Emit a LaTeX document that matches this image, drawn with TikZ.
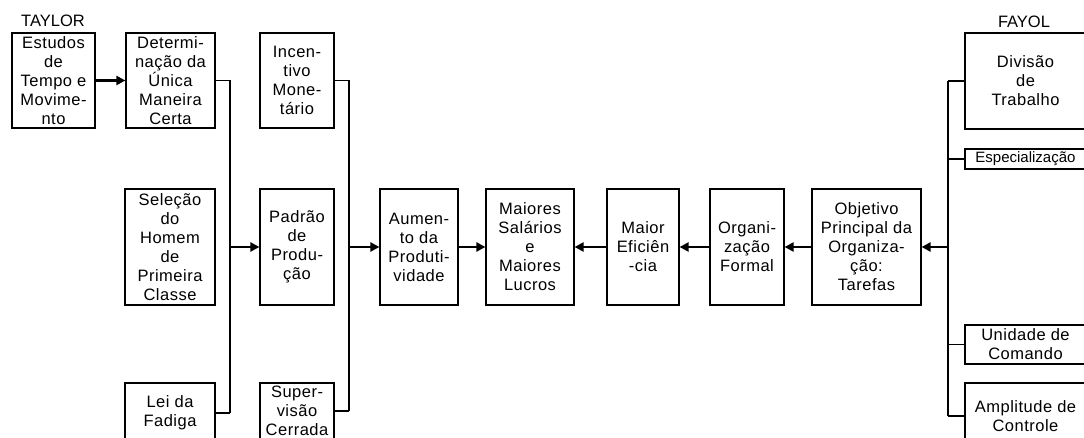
\documentclass[tikz,border=0pt]{standalone}
\usepackage{fontspec}
\setmainfont{Liberation Sans}
\newfontfamily\boxfont[LetterSpace=3]{Liberation Sans}
\usetikzlibrary{arrows.meta, positioning}

\begin{document}
\begin{tikzpicture}[x=1pt, y=-1pt,
      box/.style={draw, line width=1.2pt, rectangle, inner sep=0pt,
                  align=center, font=\boxfont\fontsize{16.5}{19}\selectfont},
      arr/.style={-{Triangle[length=9pt,width=9pt]}, line width=2.8pt},
      bus/.style={line width=1.2pt},
      >=Stealth]
    \useasboundingbox (0,0) rectangle (1084,438);
    % Taylor
    \node[font=\fontsize{16.5}{18}\selectfont] (taylor) at (53,21) {TAYLOR};
    \node[box, minimum width=83pt, minimum height=95pt] (est) at (53.5,80.5)
          {Estudos\\de\\Tempo e\\Movime-\\nto};
    \node[box, minimum width=89pt, minimum height=95pt] (det) at (170.5,80.5)
          {Determi-\\nação da\\Única\\Maneira\\Certa};
    \node[box, minimum width=90pt, minimum height=116pt] (sel) at (170,247)
          {Seleção\\do\\Homem\\de\\Primeira\\Classe};
    \node[box, minimum width=90pt, minimum height=60pt] (lei) at (170,413)
          {Lei da\\Fadiga};
    \node[box, minimum width=74pt, minimum height=95pt] (inc) at (297,80.5)
          {Incen-\\tivo\\Mone-\\tário};
    \node[box, minimum width=74pt, minimum height=116pt] (pad) at (297,247)
          {Padrão\\de\\Produ-\\ção};
    \node[box, minimum width=74pt, minimum height=56pt] (sup) at (297,411)
          {Super-\\visão\\Cerrada};
    % centro
    \node[box, minimum width=78pt, minimum height=116pt] (aum) at (419,247)
          {Aumen-\\to da\\Produti-\\vidade};
    \node[box, minimum width=88pt, minimum height=116pt] (mai) at (530,247)
          {Maiores\\Salários\\e\\Maiores\\Lucros};
    \node[box, minimum width=72pt, minimum height=116pt] (efi) at (643,247)
          {Maior\\Eficiên\\-cia};
    \node[box, minimum width=74pt, minimum height=116pt] (org) at (747,247)
          {Organi-\\zação\\Formal};
    \node[box, minimum width=109pt, minimum height=116pt] (obj) at (866.5,247)
          {Objetivo\\Principal da\\Organiza-\\ção:\\Tarefas};
    % Fayol
    \node[font=\fontsize{16.5}{18}\selectfont] (fayol) at (1024,22) {FAYOL};
    \node[box, minimum width=121pt, minimum height=96pt] (div) at (1025.5,81)
          {Divisão\\de\\Trabalho};
    \node[box, minimum width=121pt, minimum height=20pt,
          font=\fontsize{15}{19}\selectfont] (esp) at (1025.5,159)
          {Especialização};
    \node[box, minimum width=121pt, minimum height=39pt] (uni) at (1025.5,344.5)
          {Unidade de\\Comando};
    \node[box, minimum width=121pt, minimum height=66pt] (amp) at (1025.5,416)
          {Amplitude de\\Controle};

    \coordinate (tbus) at (230,0);
    \coordinate (mbus) at (349,0);
    \coordinate (fbus) at (948,0);

    \draw[arr] (est.east) -- (det.east -| det.west);
    \foreach \b in {det,lei} \draw[bus] (\b.east) -- (\b.east -| tbus);
    \draw[bus] (det.east -| tbus) -- (lei.east -| tbus);
    \draw[arr] (pad.west -| tbus) -- (pad.west);
    \foreach \b in {inc,sup} \draw[bus] (\b.east) -- (\b.east -| mbus);
    \draw[bus] (inc.east -| mbus) -- (sup.east -| mbus);
    \draw[arr] (aum.west -| mbus) -- (aum.west);
    \draw[arr] (aum.east) -- (mai.west);
    \draw[arr] (efi.west) -- (mai.east);
    \draw[arr] (org.west) -- (efi.east);
    \draw[arr] (obj.west) -- (org.east);
    \foreach \b in {div,esp,uni,amp} \draw[bus] (\b.west -| fbus) -- (\b.west);
    \draw[bus] (div.west -| fbus) -- (amp.west -| fbus);
    \draw[arr] (obj.east -| fbus) -- (obj.east);
  \end{tikzpicture}
\end{document}
